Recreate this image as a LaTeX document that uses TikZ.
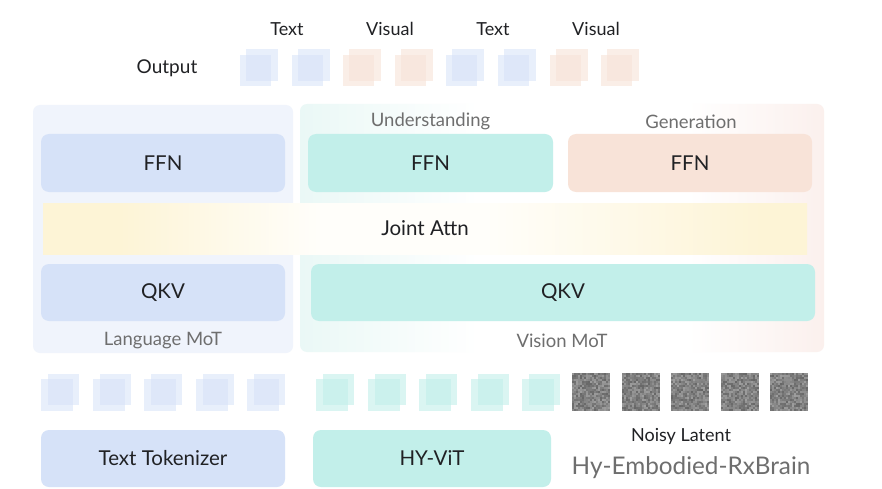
\documentclass[tikz,border=0pt]{standalone}
\usepackage{fontspec}
\setmainfont{Lato}
\definecolor{txt}{HTML}{202124}
\definecolor{gtxt}{HTML}{6E6E6E}
\definecolor{blueF}{HTML}{D6E2F8}
\definecolor{tealF}{HTML}{C2EFEA}
\definecolor{orF}{HTML}{F8E3D8}
\definecolor{langP}{HTML}{F0F4FC}
\definecolor{visL}{HTML}{EAF8F6}
\definecolor{visR}{HTML}{FBF0ED}
\definecolor{yel}{HTML}{FDF4D6}
\definecolor{wh}{HTML}{FFFFFF}
\definecolor{whY}{HTML}{FFFEFA}
\pgfdeclarehorizontalshading{visgrad}{100bp}{color(0bp)=(visL); color(25bp)=(visL); color(42bp)=(wh); color(62bp)=(wh); color(75bp)=(visR); color(100bp)=(visR)}
\pgfdeclarehorizontalshading{yelgrad}{100bp}{color(0bp)=(yel); color(25bp)=(yel); color(30bp)=(yel); color(43bp)=(whY); color(54bp)=(whY); color(72bp)=(yel); color(75bp)=(yel); color(100bp)=(yel)}
\begin{document}
\begin{tikzpicture}[x=1pt,y=-1pt,
  box/.style={rounded corners=8pt, inner sep=0pt, text=txt, font=\fontsize{20.5}{20.5}\selectfont},
  glabel/.style={text=gtxt, inner sep=0pt, font=\fontsize{18.5}{18.5}\selectfont},
  blabel/.style={text=txt, inner sep=0pt, font=\fontsize{18}{18}\selectfont},
  tokblue/.style={fill=blueF, fill opacity=0.55},
  tokor/.style={fill=orF, fill opacity=0.6},
  tokteal/.style={fill=tealF, fill opacity=0.6}]
\useasboundingbox (0,0) rectangle (882,489);
\fill[white] (0,0) rectangle (882,489);

% top labels
\node[blabel] (t1) at (287,29) {Text};
\node[blabel] (v1) at (390,29) {Visual};
\node[blabel] (t2) at (493,29) {Text};
\node[blabel] (v2) at (596,29) {Visual};
\node[blabel, font=\fontsize{19}{19}\selectfont] (out) at (167,68) {Output};

% output tokens
\foreach \i/\s in {0/tokblue,1/tokblue,2/tokor,3/tokor,4/tokblue,5/tokblue,6/tokor,7/tokor}{
  \pgfmathsetmacro\bx{246+51.6*\i}
  \fill[\s] (\bx,49) rectangle ++(32,32);
  \fill[\s] (\bx-6,55) rectangle ++(31,31);
}

% panels
\fill[langP, rounded corners=7pt] (33,105) rectangle (293,353);
\shade[rounded corners=7pt, shading=visgrad] (300,104) rectangle (824,352);

% joint attention bar
\shade[shading=yelgrad] (43,203) rectangle (807,254);
\node[box] (joint) at (425,228.5) {Joint Attn};

% boxes
\node[box, fill=blueF, minimum width=244pt, minimum height=58pt] (ffnL) at (163,163) {FFN};
\node[box, fill=tealF, minimum width=245pt, minimum height=58pt] (ffnU) at (430.5,163) {FFN};
\node[box, fill=orF, minimum width=244pt, minimum height=58pt] (ffnG) at (690,163) {FFN};
\node[box, fill=blueF, minimum width=244pt, minimum height=57pt] (qkvL) at (163,292.5) {QKV};
\node[box, fill=tealF, minimum width=504pt, minimum height=57pt] (qkvV) at (563,292.5) {QKV};

\node[glabel] (und) at (430.5,121) {Understanding};
\node[glabel] (gen) at (691,122) {Generation};
\node[glabel] (lmot) at (163,341) {Language MoT};
\node[glabel] (vmot) at (562,341) {Vision MoT};

% input tokens
\foreach \i in {0,...,4}{
  \pgfmathsetmacro\bx{48+51.5*\i}
  \fill[tokblue] (\bx,374) rectangle ++(31,31);
  \fill[tokblue] (\bx-7,379) rectangle ++(32,32);
  \pgfmathsetmacro\cx{323+51.5*\i}
  \fill[tokteal] (\cx,374) rectangle ++(31,31);
  \fill[tokteal] (\cx-7,379) rectangle ++(32,32);
}

% noisy latents
\pgfmathsetseed{7}
\foreach \x in {572,622,671,721,770}{
  \foreach \a in {0,...,18}{
    \foreach \b in {0,...,18}{
      \pgfmathsetmacro\g{0.40+0.22*rnd}
      \definecolor{nz}{gray}{\g}
      \fill[nz] (\x+2*\a,373+2*\b) rectangle ++(2,2);
    }
  }
}

% bottom boxes
\node[box, fill=blueF, minimum width=244pt, minimum height=57pt] (tok) at (163,458.5) {Text Tokenizer};
\node[box, fill=tealF, minimum width=238pt, minimum height=57pt] (vit) at (432,458.5) {HY-ViT};
\node[blabel] (noisy) at (681,436) {Noisy Latent};
\node[text=gtxt, inner sep=0pt, font=\fontsize{24.3}{24.3}\selectfont] (brand) at (691,468) {Hy-Embodied-RxBrain};
\end{tikzpicture}
\end{document}
